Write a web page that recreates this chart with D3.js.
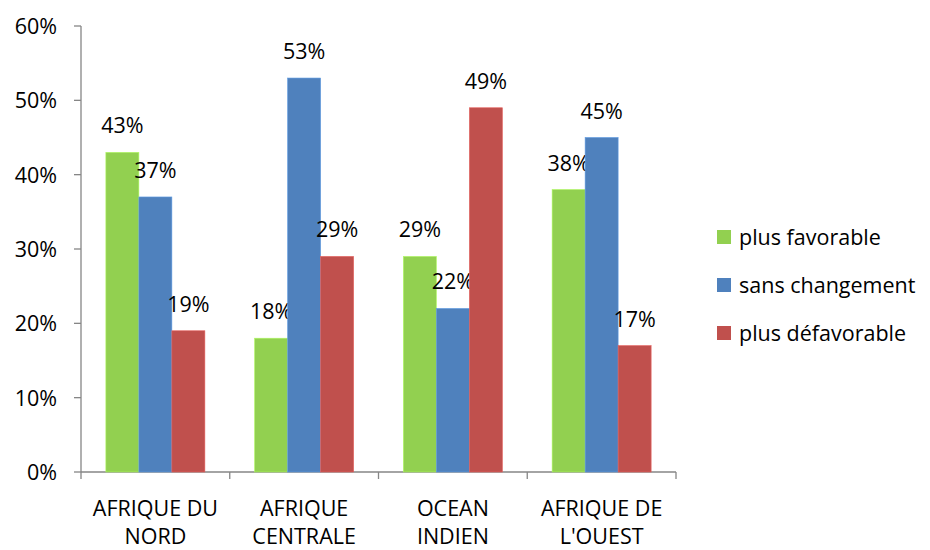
<!DOCTYPE html>
<html><head><meta charset="utf-8">
<script src="https://cdn.jsdelivr.net/npm/d3@7"></script>
<style>body{margin:0;background:#fff}svg{display:block}text{font-family:"Open Sans",sans-serif;fill:#000}</style>
</head><body><svg id="c" width="930" height="550"></svg>
<script>
const categories = [["AFRIQUE DU","NORD"],["AFRIQUE","CENTRALE"],["OCEAN","INDIEN"],["AFRIQUE DE","L'OUEST"]];
const seriesNames = ["plus favorable","sans changement","plus défavorable"];
const favorable = [43,18,29,38];
const sansChangement = [37,53,22,45];
const defavorable = [19,29,49,17];
const yTicks = [0,10,20,30,40,50,60];
const colors = ["#92D050","#4F81BD","#C0504D"];

(function(){
const series = [favorable, sansChangement, defavorable];
const svg = d3.select("#c");
const L = 81, R = 676, T = 26, B = 472;
const FS = "21.5px";
const x = d3.scaleBand().domain(d3.range(categories.length)).range([L, R]).paddingInner(0).paddingOuter(0);
const y = d3.scaleLinear().domain([0,60]).range([B, T]);
const bw = 33;
const groupW = bw * 3;

const ax = "#868686";
svg.append("line").attr("x1",L).attr("x2",L).attr("y1",T).attr("y2",B).attr("stroke",ax).attr("stroke-width",1.3);
svg.append("line").attr("x1",L).attr("x2",R).attr("y1",B).attr("y2",B).attr("stroke",ax).attr("stroke-width",1.3);
yTicks.forEach(t=>{
  svg.append("line").attr("x1",L-7).attr("x2",L).attr("y1",y(t)).attr("y2",y(t)).attr("stroke",ax).attr("stroke-width",1.3);
  svg.append("text").attr("x",L-24).attr("y",y(t)+8).attr("text-anchor","end").style("font-size",FS).text(t+"%");
});
d3.range(categories.length+1).forEach(i=>{
  const xx = i<categories.length ? x(i) : R;
  svg.append("line").attr("x1",xx).attr("x2",xx).attr("y1",B).attr("y2",B+7).attr("stroke",ax).attr("stroke-width",1.3);
});
categories.forEach((c,i)=>{
  const cx = x(i)+x.bandwidth()/2;
  c.forEach((line,j)=>{
    svg.append("text").attr("x",cx).attr("y",516+j*27.5).attr("text-anchor","middle").style("font-size",FS).text(line);
  });
});

series.forEach((vals,s)=>{
  vals.forEach((v,i)=>{
    const bx = x(i) + (x.bandwidth()-groupW)/2 + s*bw;
    svg.append("rect").attr("x",bx).attr("y",y(v)).attr("width",bw).attr("height",B-y(v))
      .attr("fill",colors[s]).attr("stroke",d3.color(colors[s]).brighter(0.5)).attr("stroke-width",0.6);
    svg.append("text").attr("x",bx+bw/2).attr("y",y(v)-19).attr("text-anchor","middle").style("font-size",FS).text(v+"%");
  });
});

const ly = [237,285,333];
seriesNames.forEach((n,s)=>{
  svg.append("rect").attr("x",717).attr("y",ly[s]-7).attr("width",14).attr("height",14).attr("fill",colors[s]);
  svg.append("text").attr("x",739).attr("y",ly[s]+7.5).style("font-size",FS).text(n);
});
})();
</script></body></html>
